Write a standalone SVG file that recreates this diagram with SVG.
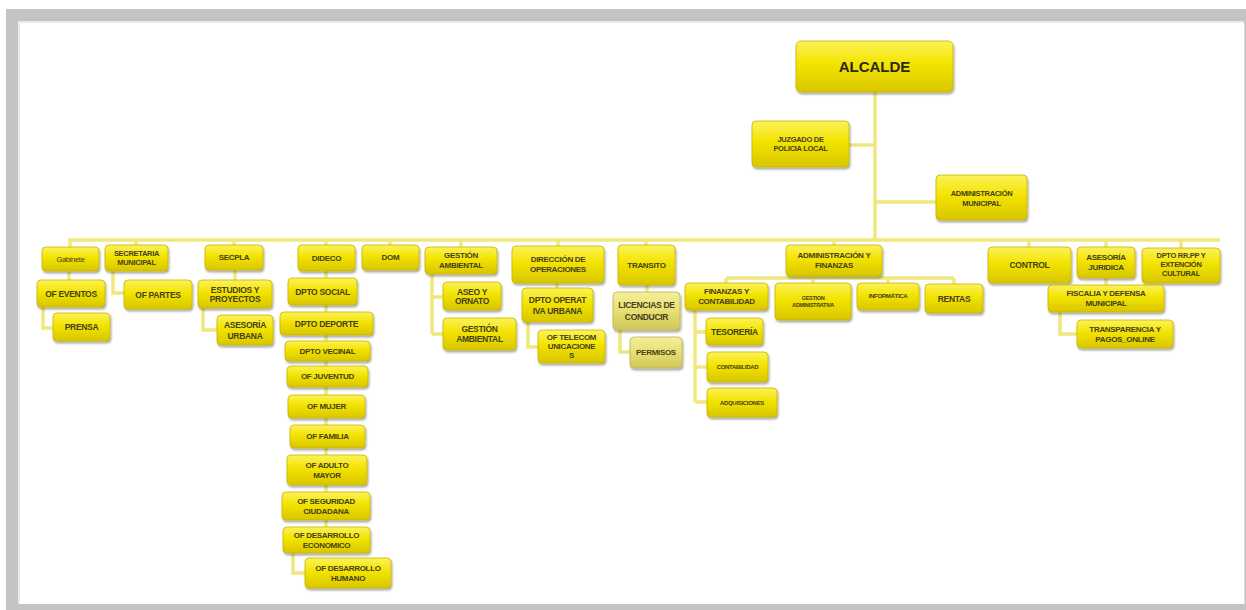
<svg xmlns="http://www.w3.org/2000/svg" width="1246" height="610" viewBox="0 0 1246 610">
<defs>
<linearGradient id="gy" x1="0" y1="0" x2="0" y2="1">
<stop offset="0" stop-color="#fcf25a"/>
<stop offset="0.45" stop-color="#f3e300"/>
<stop offset="1" stop-color="#d8c600"/>
</linearGradient>
<linearGradient id="gp" x1="0" y1="0" x2="0" y2="1">
<stop offset="0" stop-color="#f4ef9a"/>
<stop offset="0.5" stop-color="#e6df72"/>
<stop offset="1" stop-color="#cfc758"/>
</linearGradient>
<filter id="sh" x="-20%" y="-20%" width="140%" height="150%">
<feDropShadow dx="1" dy="2" stdDeviation="1.3" flood-color="#000" flood-opacity="0.35"/>
</filter>
</defs>
<style>
.b{fill:url(#gy);stroke:#c8b500;stroke-width:0.8;filter:url(#sh)}
.p{fill:url(#gp);stroke:#bdb550;stroke-width:0.8;filter:url(#sh)}
text{font-family:"Liberation Sans",Arial,sans-serif;font-weight:bold;fill:#45411c;text-anchor:middle;dominant-baseline:central;letter-spacing:-0.3px}
.c path{fill:none;stroke:#f0e77e;stroke-width:3.5;stroke-linejoin:miter}
</style>
<rect x="6" y="9" width="1240" height="601" fill="#c4c4c4"/>
<rect x="18" y="21" width="1226" height="583" fill="#ffffff"/>
<path d="M19,604 V22 H1244" fill="none" stroke="#e4e4e4" stroke-width="1.5"/>
<path d="M1244.5,24 V604" fill="none" stroke="#dcdcdc" stroke-width="1"/>

<g id="connectors" class="c">
<path d="M875,92 V240"/>
<path d="M849,145 H875"/>
<path d="M875,202 H936"/>
<path d="M68,240 H1220"/>
<path d="M70,240 V247 M136,240 V245 M234,240 V245 M326,240 V245 M390,240 V245 M461,240 V247 M558,240 V246 M646,240 V245 M834,240 V245 M1029,240 V247 M1106,240 V247 M1181,240 V248"/>
<path d="M69,271 V280"/>
<path d="M43,307 V328 H53"/>
<path d="M113,271 V293 H124"/>
<path d="M235,270 V280"/>
<path d="M203,308 V330 H217"/>
<path d="M326,271 V527"/>
<path d="M293,553 V573 H305"/>
<path d="M432,274 V334 M432,297 H443 M432,334 H443"/>
<path d="M557,283 V288"/>
<path d="M528,322 V347 H538"/>
<path d="M647,285 V292"/>
<path d="M620,330 V352 H630"/>
<path d="M834,276 V278 M726,278 H954 M726,278 V283 M813,278 V283 M888,278 V283 M954,278 V284"/>
<path d="M695,310 V402 M695,332 H706 M695,367 H707 M695,402 H707"/>
<path d="M1106,278 V285"/>
<path d="M1060,312 V334 H1077"/>
</g>

<g id="alcalde"><rect class="b" x="796" y="41" width="157" height="51" rx="5"/><text x="874.5" y="66.5" style="font-size:15px;fill:#2a2810;letter-spacing:0">ALCALDE</text></g>
<g id="juzgado"><rect class="b" x="752" y="121" width="97" height="46" rx="4"/><text x="800.5" y="139" font-size="7.5">JUZGADO DE</text><text x="800.5" y="148.5" font-size="7.5">POLICIA LOCAL</text></g>
<g id="admin-municipal"><rect class="b" x="936" y="175" width="91" height="45" rx="4"/><text x="981.5" y="193" font-size="7.5">ADMINISTRACIÓN</text><text x="981.5" y="203" font-size="7.5">MUNICIPAL</text></g>

<g id="gabinete"><rect class="b" x="42" y="247" width="57" height="24" rx="4"/><text x="70.5" y="259" font-size="7.5" style="font-weight:normal">Gabinete</text></g>
<g id="secretaria"><rect class="b" x="105" y="245" width="63" height="26" rx="4"/><text x="136.5" y="253.5" font-size="7.5">SECRETARIA</text><text x="136.5" y="262.5" font-size="7.5">MUNICIPAL</text></g>
<g id="secpla"><rect class="b" x="205" y="245" width="58" height="25" rx="4"/><text x="234" y="257.5" font-size="8">SECPLA</text></g>
<g id="dideco"><rect class="b" x="298" y="245" width="57" height="26" rx="4"/><text x="326.5" y="258" font-size="8">DIDECO</text></g>
<g id="dom"><rect class="b" x="362" y="245" width="57" height="25" rx="4"/><text x="390.5" y="257.5" font-size="8">DOM</text></g>
<g id="gestion-ambiental"><rect class="b" x="425" y="247" width="72" height="27" rx="4"/><text x="461" y="255.5" font-size="8">GESTIÓN</text><text x="461" y="265" font-size="8">AMBIENTAL</text></g>
<g id="direccion-operaciones"><rect class="b" x="512" y="246" width="92" height="37" rx="4"/><text x="558" y="259.5" font-size="8">DIRECCIÓN DE</text><text x="558" y="269.5" font-size="8">OPERACIONES</text></g>
<g id="transito"><rect class="b" x="618" y="245" width="57" height="40" rx="4"/><text x="646.5" y="265" font-size="8">TRANSITO</text></g>
<g id="admin-finanzas"><rect class="b" x="786" y="245" width="96" height="31" rx="4"/><text x="834" y="255.5" font-size="8">ADMINISTRACIÓN Y</text><text x="834" y="265.5" font-size="8">FINANZAS</text></g>
<g id="control"><rect class="b" x="988" y="247" width="83" height="36" rx="4"/><text x="1029.5" y="265" font-size="8.5">CONTROL</text></g>
<g id="asesoria-juridica"><rect class="b" x="1077" y="247" width="58" height="31" rx="4"/><text x="1106" y="257.5" font-size="8">ASESORÍA</text><text x="1106" y="267.5" font-size="8">JURIDICA</text></g>
<g id="dpto-rrpp"><rect class="b" x="1142" y="248" width="78" height="35" rx="4"/><text x="1181" y="255.5" font-size="7.5">DPTO RR.PP Y</text><text x="1181" y="264.5" font-size="7.5">EXTENCIÓN</text><text x="1181" y="273.5" font-size="7.5">CULTURAL</text></g>

<g id="of-eventos"><rect class="b" x="37" y="280" width="68" height="27" rx="4"/><text x="71" y="293.5" font-size="8.5">OF EVENTOS</text></g>
<g id="prensa"><rect class="b" x="53" y="313" width="57" height="28" rx="4"/><text x="81.5" y="327" font-size="8.5">PRENSA</text></g>
<g id="of-partes"><rect class="b" x="124" y="280" width="68" height="29" rx="4"/><text x="158" y="294.5" font-size="8.5">OF PARTES</text></g>
<g id="estudios"><rect class="b" x="198" y="280" width="74" height="28" rx="4"/><text x="235" y="289.5" font-size="8.5">ESTUDIOS Y</text><text x="235" y="299" font-size="8.5">PROYECTOS</text></g>
<g id="asesoria-urbana"><rect class="b" x="217" y="315" width="56" height="30" rx="4"/><text x="245" y="324.5" font-size="8.5">ASESORÍA</text><text x="245" y="336" font-size="8.5">URBANA</text></g>

<g id="dpto-social"><rect class="b" x="288" y="278" width="69" height="27" rx="4"/><text x="322.5" y="291.5" font-size="8.5">DPTO SOCIAL</text></g>
<g id="dpto-deporte"><rect class="b" x="280" y="312" width="93" height="23" rx="4"/><text x="326.5" y="323.5" font-size="8.5">DPTO DEPORTE</text></g>
<g id="dpto-vecinal"><rect class="b" x="285" y="341" width="85" height="20" rx="4"/><text x="327.5" y="351" font-size="8">DPTO VECINAL</text></g>
<g id="of-juventud"><rect class="b" x="287" y="366" width="81" height="21" rx="4"/><text x="327.5" y="376.5" font-size="8">OF JUVENTUD</text></g>
<g id="of-mujer"><rect class="b" x="288" y="395" width="77" height="23" rx="4"/><text x="326.5" y="406.5" font-size="8">OF MUJER</text></g>
<g id="of-familia"><rect class="b" x="290" y="425" width="75" height="23" rx="4"/><text x="327.5" y="436.5" font-size="8">OF FAMILIA</text></g>
<g id="of-adulto-mayor"><rect class="b" x="287" y="455" width="80" height="30" rx="4"/><text x="327" y="465" font-size="8">OF ADULTO</text><text x="327" y="475" font-size="8">MAYOR</text></g>
<g id="of-seguridad"><rect class="b" x="282" y="492" width="88" height="28" rx="4"/><text x="326" y="501" font-size="8">OF SEGURIDAD</text><text x="326" y="511" font-size="8">CIUDADANA</text></g>
<g id="of-des-economico"><rect class="b" x="283" y="527" width="87" height="26" rx="4"/><text x="326.5" y="535.5" font-size="8">OF DESARROLLO</text><text x="326.5" y="545" font-size="8">ECONOMICO</text></g>
<g id="of-des-humano"><rect class="b" x="305" y="558" width="86" height="30" rx="4"/><text x="348" y="568" font-size="8">OF DESARROLLO</text><text x="348" y="578" font-size="8">HUMANO</text></g>

<g id="aseo-ornato"><rect class="b" x="443" y="282" width="58" height="28" rx="4"/><text x="472" y="291.5" font-size="8.5">ASEO Y</text><text x="472" y="301" font-size="8.5">ORNATO</text></g>
<g id="gestion-ambiental-2"><rect class="b" x="443" y="318" width="73" height="32" rx="4"/><text x="479.5" y="328.5" font-size="8.5">GESTIÓN</text><text x="479.5" y="339" font-size="8.5">AMBIENTAL</text></g>
<g id="dpto-operativa"><rect class="b" x="522" y="288" width="71" height="34" rx="4"/><text x="557.5" y="299.5" font-size="8.5">DPTO OPERAT</text><text x="557.5" y="310.5" font-size="8.5">IVA URBANA</text></g>
<g id="of-telecom"><rect class="b" x="538" y="330" width="67" height="33" rx="4"/><text x="571.5" y="337.5" font-size="8">OF TELECOM</text><text x="571.5" y="346.5" font-size="8">UNICACIONE</text><text x="571.5" y="355.5" font-size="8">S</text></g>
<g id="licencias"><rect class="p" x="613" y="292" width="67" height="38" rx="4"/><text x="646.5" y="305" font-size="8.5">LICENCIAS DE</text><text x="646.5" y="317" font-size="8.5">CONDUCIR</text></g>
<g id="permisos"><rect class="p" x="630" y="337" width="52" height="31" rx="4"/><text x="656" y="352.5" font-size="8">PERMISOS</text></g>

<g id="finanzas-contabilidad"><rect class="b" x="685" y="283" width="83" height="27" rx="4"/><text x="726.5" y="291.5" font-size="8">FINANZAS Y</text><text x="726.5" y="301" font-size="8">CONTABILIDAD</text></g>
<g id="gestion-administrativa"><rect class="b" x="775" y="283" width="76" height="37" rx="4"/><text x="813" y="297.5" font-size="5.5">GESTION</text><text x="813" y="305" font-size="5.5">ADMINISTRATIVA</text></g>
<g id="informatica"><rect class="b" x="857" y="283" width="62" height="27" rx="4"/><text x="888" y="296" font-size="6">INFORMÁTICA</text></g>
<g id="rentas"><rect class="b" x="925" y="284" width="58" height="29" rx="4"/><text x="954" y="298.5" font-size="8.5">RENTAS</text></g>
<g id="tesoreria"><rect class="b" x="706" y="318" width="57" height="27" rx="4"/><text x="734.5" y="331.5" font-size="8.5">TESORERÍA</text></g>
<g id="contabilidad"><rect class="b" x="707" y="352" width="61" height="30" rx="4"/><text x="737.5" y="367" font-size="6">CONTABILIDAD</text></g>
<g id="adquisiciones"><rect class="b" x="707" y="388" width="70" height="29" rx="4"/><text x="742" y="402.5" font-size="6">ADQUISICIONES</text></g>

<g id="fiscalia"><rect class="b" x="1048" y="285" width="116" height="27" rx="4"/><text x="1106" y="293.5" font-size="8">FISCALIA Y DEFENSA</text><text x="1106" y="303" font-size="8">MUNICIPAL</text></g>
<g id="transparencia"><rect class="b" x="1077" y="320" width="96" height="28" rx="4"/><text x="1125" y="329" font-size="8">TRANSPARENCIA Y</text><text x="1125" y="339" font-size="8">PAGOS_ONLINE</text></g>
</svg>
